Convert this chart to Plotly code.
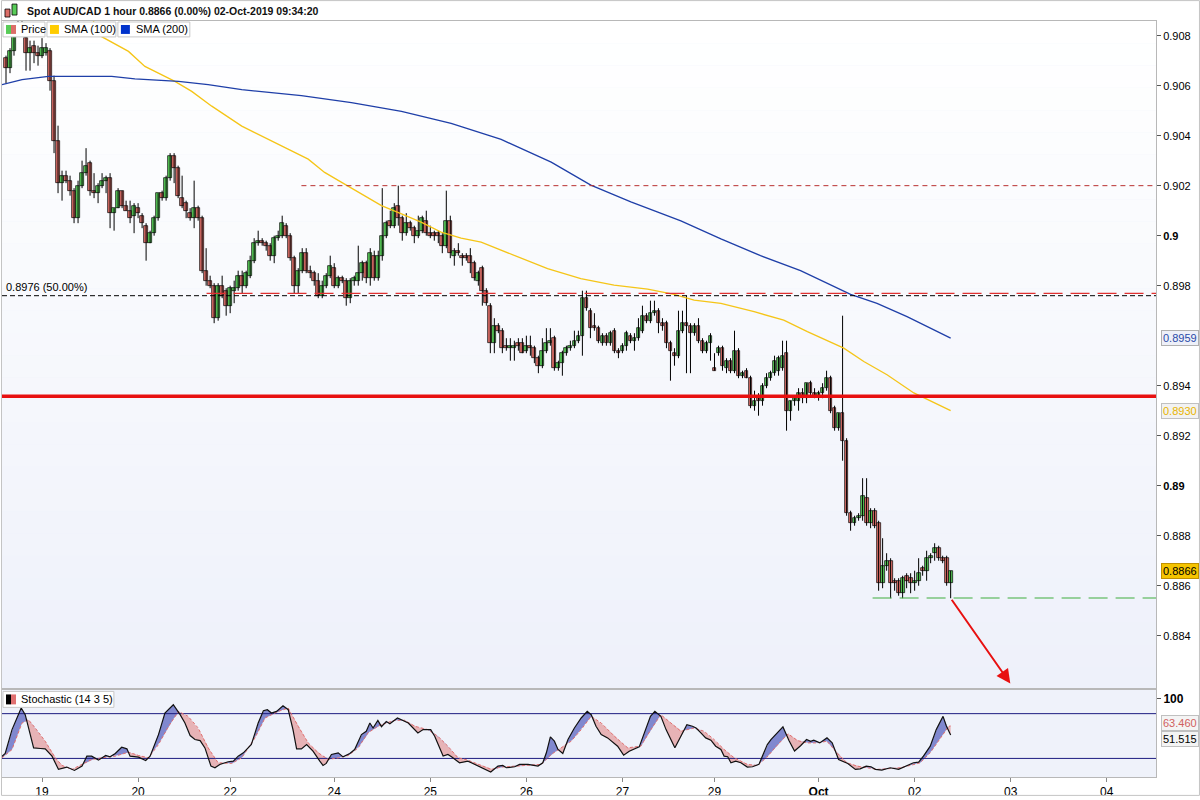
import numpy as np
import plotly.graph_objects as go

# ---------------- DATA (prices in pips, 1 pip = 0.0001) ----------------
OPEN_PIPS = [9071,9067,9074,9081,9085,9079,9073,9076,9073,9072,9073,9074,9062,9038,9021,9024,9022,9018,9007,9020,
             9025,9029,9018,9017,9020,9022,9023,9009,9011,9018,9012,9010,9008,9011,9008,9004,8997,9001,9007,9017,
             9015,9023,9032,9027,9015,9013,9009,9007,9011,9007,8986,8982,8980,8967,8980,8978,8972,8978,8979,8984,
             8980,8984,8990,8997,8998,8997,8996,8992,8999,9000,9004,9000,8991,8980,8986,8993,8986,8985,8982,8976,
             8980,8984,8987,8980,8983,8982,8975,8982,8982,8985,8989,8983,8992,8983,8992,9000,9006,9004,9012,9007,
             9001,9005,9003,9000,9002,9006,9001,9001,9001,9000,8996,9006,8992,8994,8992,8992,8992,8989,8982,8987,
             8978,8972,8957,8964,8962,8956,8955,8955,8957,8957,8954,8956,8955,8951,8948,8954,8957,8959,8947,8949,
             8953,8955,8956,8958,8960,8975,8970,8964,8963,8957,8960,8957,8962,8954,8954,8956,8960,8958,8959,8962,
             8968,8966,8969,8970,8965,8965,8957,8953,8952,8962,8965,8964,8961,8964,8958,8954,8957,8947,8953,8955,
             8947,8950,8946,8954,8944,8946,8943,8932,8935,8934,8940,8943,8945,8946,8947,8953,8930,8934,8934,8937,
             8935,8941,8937,8936,8937,8939,8943,8931,8923,8929,8918,8889,8885,8887,8888,8895,8885,8890,8885,8861,
             8868,8870,8862,8862,8857,8864,8863,8861,8862,8867,8866,8871,8873,8875,8871,8871,8861]
HIGH_PIPS = [9072,9075,9084,9087,9088,9082,9078,9078,9076,9079,9077,9075,9064,9044,9026,9026,9024,9019,9022,9030,
             9035,9030,9025,9021,9025,9024,9025,9011,9019,9018,9014,9014,9013,9013,9009,9005,9002,9008,9017,9018,
             9024,9033,9033,9028,9024,9014,9011,9022,9012,9008,8995,8984,8981,8981,8984,8979,8980,8982,8986,8986,
             8986,8992,8999,9002,8999,8998,8997,9000,9002,9008,9005,9001,8992,8987,8995,8995,8988,8986,8985,8982,
             8985,8992,8989,8984,8984,8983,8983,8984,8996,8990,8990,8995,8994,8994,9019,9006,9010,9013,9020,9008,
             9009,9006,9004,9008,9008,9010,9004,9002,9002,9001,9018,9008,8995,8997,8993,8993,8995,8990,8986,8988,
             8979,8973,8967,8965,8963,8959,8959,8958,8959,8959,8960,8960,8956,8952,8959,8963,8963,8960,8950,8954,
             8956,8958,8962,8962,8978,8978,8971,8969,8964,8961,8961,8962,8963,8955,8957,8962,8961,8961,8967,8972,
             8969,8974,8974,8971,8967,8966,8958,8955,8970,8970,8976,8965,8965,8967,8959,8958,8961,8953,8956,8956,
             8951,8951,8962,8955,8946,8947,8944,8938,8937,8941,8945,8946,8952,8952,8958,8958,8934,8935,8939,8939,
             8941,8942,8939,8938,8941,8946,8944,8932,8929,8968,8919,8890,8888,8889,8903,8903,8891,8891,8886,8879,
             8873,8871,8863,8863,8864,8865,8865,8866,8871,8868,8874,8873,8877,8876,8872,8872,8866]
LOW_PIPS = [9061,9065,9072,9081,9081,9066,9066,9069,9068,9071,9072,9058,9033,9017,9014,9021,9016,9005,9005,9019,
            9024,9016,9015,9013,9019,9017,9003,9002,9011,9011,9010,9005,9001,9007,9003,8990,8997,9000,9006,9014,
            9014,9022,9021,9015,9011,9007,9006,9003,9006,8985,8980,8979,8965,8966,8975,8968,8969,8973,8978,8977,
            8979,8983,8989,8996,8996,8994,8990,8989,8998,8999,8999,8990,8977,8977,8985,8985,8983,8980,8975,8975,
            8979,8983,8979,8979,8981,8972,8973,8980,8980,8982,8981,8980,8982,8982,8990,8999,9003,9003,9004,8998,
            9000,9002,8997,8999,9001,9000,8999,8998,8997,8993,8995,8991,8988,8992,8988,8990,8985,8982,8980,8972,
            8972,8953,8953,8961,8953,8954,8950,8950,8954,8953,8953,8952,8949,8945,8947,8953,8956,8946,8946,8944,
            8952,8954,8955,8957,8952,8970,8959,8962,8957,8956,8956,8956,8953,8951,8953,8954,8957,8954,8958,8961,
            8965,8965,8968,8961,8962,8955,8942,8948,8951,8961,8945,8945,8960,8957,8953,8953,8950,8946,8952,8946,
            8945,8945,8945,8943,8943,8943,8931,8930,8928,8932,8939,8942,8944,8944,8946,8922,8926,8932,8930,8933,
            8933,8936,8935,8934,8935,8938,8929,8922,8922,8910,8888,8882,8884,8886,8886,8884,8883,8883,8858,8859,
            8866,8855,8858,8856,8855,8859,8857,8858,8860,8864,8862,8869,8870,8870,8869,8860,8855]
CLOSE_PIPS = [9067,9074,9080,9085,9082,9073,9075,9073,9072,9075,9075,9062,9038,9021,9024,9022,9018,9007,9020,9025,
              9028,9018,9017,9020,9022,9023,9009,9011,9018,9012,9010,9007,9012,9009,9005,8997,9001,9007,9017,9015,
              9023,9032,9027,9016,9012,9010,9007,9011,9007,8986,8982,8980,8967,8980,8976,8972,8979,8979,8984,8980,
              8985,8990,8997,8998,8997,8996,8992,8999,9000,9005,9000,8991,8980,8986,8993,8986,8985,8982,8976,8980,
              8984,8988,8980,8983,8982,8975,8982,8983,8985,8989,8983,8993,8983,8992,9000,9005,9004,9011,9007,9001,
              9005,9003,9000,9002,9007,9001,9000,9000,9000,8996,9006,8993,8994,8993,8991,8991,8989,8983,8985,8978,
              8973,8957,8964,8962,8955,8955,8956,8956,8956,8953,8956,8955,8951,8948,8954,8957,8958,8947,8949,8953,
              8955,8956,8958,8960,8975,8971,8963,8963,8958,8960,8957,8961,8954,8953,8956,8961,8958,8959,8963,8968,
              8966,8969,8970,8965,8964,8957,8954,8952,8962,8965,8964,8961,8964,8958,8954,8957,8960,8946,8955,8948,
              8950,8946,8954,8944,8945,8943,8932,8934,8934,8940,8943,8945,8950,8951,8952,8930,8934,8935,8937,8935,
              8941,8937,8936,8937,8939,8943,8930,8923,8929,8918,8889,8885,8887,8888,8896,8885,8890,8884,8861,8868,
              8870,8861,8861,8857,8863,8862,8861,8862,8865,8866,8871,8872,8875,8871,8870,8861,8866]

# Moving averages read at points along the drawn curves (x = candle index)
SMA100_X = [21.4, 23.9, 30.6, 34.7, 42.2, 46.4, 51.4, 56.4, 58.9, 75.5, 79.6, 84.6, 88.8, 93.8, 98.8, 103.7,
            108.7, 113.7, 118.7, 135.3, 143.6, 151.9, 160.3, 166.9, 171.9, 178.6, 186.9, 194.3, 200.2, 205.9,
            209.3, 214.3, 220.1, 226.8, 231.8, 236.0]
SMA100 = [0.90871, 0.90796, 0.90737, 0.90677, 0.90617, 0.90577, 0.90518, 0.90465, 0.90438, 0.90306, 0.90253,
          0.90206, 0.90166, 0.90120, 0.90087, 0.90054, 0.90014, 0.89990, 0.89974, 0.89868, 0.89828, 0.89802,
          0.89786, 0.89765, 0.89742, 0.89729, 0.89696, 0.89662, 0.89616, 0.89576, 0.89550, 0.89497, 0.89444,
          0.89371, 0.89331, 0.8930]
SMA200_X = [-1.0, 4.0, 10.6, 26.4, 32.2, 43.1, 50.5, 58.9, 73.8, 86.3, 98.8, 111.2, 123.7, 136.2, 146.1, 156.1,
            168.6, 178.6, 188.5, 198.5, 211.0, 217.6, 225.1, 230.1, 236.0]
SMA200 = [0.90604, 0.90624, 0.90637, 0.90637, 0.90627, 0.90617, 0.90604, 0.90584, 0.90560, 0.90532, 0.90497,
          0.90449, 0.90385, 0.90294, 0.90202, 0.90135, 0.90059, 0.89987, 0.89920, 0.89860, 0.89765, 0.89729,
          0.89676, 0.89636, 0.8959]

# Stochastic %K and %D read at vertices of the drawn lines
STOCH_K_X = [-1.0, -0.2, 1.5, 3.8, 4.8, 6.9, 8.6, 9.8, 11.5, 13.1, 15.2, 17.1, 19.0, 20.2, 21.4, 23.1, 24.9, 26.0,
             27.3, 28.9, 30.2, 31.0, 33.1, 34.9, 36.0, 38.1, 39.7, 41.8, 43.5, 44.7, 46.0, 47.2, 48.5, 49.7, 51.2,
             52.2, 53.4, 55.5, 56.8, 58.0, 59.3, 61.3, 63.0, 64.3, 65.3, 66.3, 67.6, 69.2, 70.5, 71.7, 72.6, 73.8,
             75.1, 76.7, 78.4, 79.2, 80.0, 81.3, 83.0, 84.2, 85.9, 87.1, 88.8, 90.0, 90.9, 91.7, 92.9, 93.8, 95.0,
             95.9, 97.8, 98.8, 100.5, 102.9, 104.2, 106.1, 107.1, 109.2, 110.4, 111.3, 113.3, 115.4, 117.9, 119.6,
             121.1, 122.9, 124.1, 125.0, 127.1, 128.3, 130.4, 132.9, 134.1, 135.0, 136.0, 137.0, 137.9, 139.1,
             140.4, 142.0, 143.7, 145.2, 146.2, 147.4, 148.7, 150.3, 151.6, 152.8, 154.3, 155.7, 158.2, 159.9,
             161.0, 162.1, 163.6, 164.9, 166.0, 167.1, 168.6, 170.1, 171.5, 172.4, 173.6, 174.8, 176.1, 177.3,
             178.6, 179.4, 180.3, 181.1, 182.3, 183.6, 185.2, 186.5, 188.1, 189.4, 190.2, 191.1, 192.4, 194.1,
             195.6, 197.0, 198.5, 200.0, 201.0, 201.8, 203.3, 205.1, 206.4, 208.0, 210.3, 212.2, 213.4, 214.9,
             216.1, 217.2, 218.8, 220.9, 223.0, 225.1, 226.7, 228.0, 229.2, 230.9, 232.4, 234.1, 234.9, 236.0]
STOCH_K = [23.0, 26.6, 58.6, 87.5, 78.6, 34.1, 33.3, 32.8, 23.0, 5.3, 8.4, 3.9, 9.7, 23.0, 23.0, 17.7, 23.9, 22.1,
           26.6, 35.0, 32.8, 23.0, 21.7, 17.3, 23.0, 51.9, 80.8, 91.9, 78.6, 67.5, 50.6, 45.3, 43.9, 34.1, 9.7,
           7.5, 11.9, 15.5, 16.4, 23.0, 27.5, 38.6, 67.5, 83.9, 85.3, 80.8, 83.0, 90.6, 85.3, 58.6, 32.8, 32.8,
           38.6, 29.7, 16.4, 10.6, 13.3, 25.3, 27.5, 22.1, 26.6, 31.9, 51.9, 56.4, 67.5, 60.8, 71.0, 62.6, 69.5,
           66.4, 74.2, 71.5, 67.5, 54.2, 58.6, 58.6, 49.7, 23.1, 25.3, 22.2, 14.2, 16.4, 9.7, 5.3, 1.7, 9.7, 10.6,
           7.5, 8.8, 12.0, 12.0, 9.7, 14.2, 27.5, 48.8, 43.1, 32.0, 26.6, 45.3, 60.8, 74.2, 83.1, 78.6, 63.1,
           52.0, 47.5, 41.7, 36.4, 24.4, 29.7, 35.5, 60.8, 76.4, 83.1, 76.4, 58.6, 45.3, 34.2, 49.7, 65.3, 63.1,
           60.8, 54.2, 47.5, 44.4, 36.4, 32.0, 23.1, 22.2, 14.2, 16.4, 14.2, 8.4, 8.8, 12.0, 27.5, 38.6, 45.3,
           52.5, 62.2, 44.0, 30.0, 37.0, 45.3, 43.0, 44.4, 40.8, 47.5, 40.8, 18.6, 13.3, 5.3, 6.1, 9.7, 8.8, 5.3,
           4.4, 7.5, 5.3, 10.6, 14.2, 15.0, 23.0, 36.4, 58.6, 76.4, 63.9, 51.515]
STOCH_D_X = [-1.0, 1.5, 4.0, 5.6, 7.3, 9.8, 12.3, 14.0, 16.5, 19.0, 21.4, 23.9, 27.3, 30.6, 33.1, 35.6, 38.1, 40.6,
             43.1, 45.5, 48.0, 50.5, 53.0, 56.4, 58.9, 62.2, 64.7, 68.0, 70.5, 73.0, 75.5, 78.0, 80.5, 83.0, 85.5,
             88.0, 90.4, 92.9, 93.8, 97.1, 99.6, 102.1, 105.4, 107.9, 110.4, 112.9, 115.4, 118.7, 121.2, 123.7,
             127.1, 130.4, 133.7, 136.2, 138.7, 141.2, 143.7, 146.2, 148.7, 152.0, 155.3, 158.6, 161.1, 163.6,
             166.1, 168.6, 171.9, 174.4, 176.9, 179.4, 181.9, 185.2, 187.7, 190.0, 192.7, 195.4, 197.7, 200.1,
             202.6, 205.1, 207.6, 210.1, 212.6, 215.1, 217.6, 220.1, 223.4, 225.9, 228.4, 230.9, 232.6, 234.2,
             235.5, 236.0]
STOCH_D = [20.8, 31.9, 67.5, 71.9, 60.8, 43.0, 20.8, 10.6, 5.3, 11.9, 18.6, 20.8, 23.0, 28.4, 23.9, 20.8, 38.6, 63.0,
           83.0, 76.4, 60.8, 34.1, 14.1, 13.3, 20.8, 47.5, 74.1, 83.0, 87.5, 63.0, 40.8, 27.5, 18.6, 20.8, 23.9,
           34.1, 54.1, 63.0, 65.3, 71.1, 71.1, 63.1, 58.6, 49.7, 36.4, 20.9, 17.7, 10.6, 5.3, 8.4, 9.7, 10.6, 12.0,
           25.3, 34.2, 43.1, 58.6, 76.4, 67.5, 49.7, 34.2, 36.4, 58.6, 78.6, 67.5, 56.4, 60.8, 56.4, 45.3, 32.0,
           20.9, 12.0, 10.5, 21.0, 38.0, 53.0, 44.0, 40.8, 40.8, 43.0, 27.5, 14.1, 9.7, 7.5, 5.3, 6.1, 7.5, 10.6,
           14.1, 27.5, 40.8, 54.1, 63.0, 63.46]

# Horizontal levels: (price, start candle index)
RESIST_LEVEL = (0.9020, 73.8)
FIB_LEVEL = (0.8976, -1.0)
FIB_RED_LEVEL = (0.89769, 50.1)
KEY_LEVEL = (0.89358, -1.0)
SUPPORT_LEVEL = (0.88551, 216.5)
ARROW_TARGET = (250.9, 0.88209)

# Axis ticks
X_TICK_IDX = [9, 33, 56, 82, 106, 130, 154, 177, 203, 227, 251, 275]
X_TICK_TEXT = ['19', '20', '22', '24', '25', '26', '27', '29', '<b>Oct</b>', '02', '03', '04']
Y_TICKS = [0.884, 0.886, 0.888, 0.89, 0.892, 0.894, 0.898, 0.9, 0.902, 0.904, 0.906, 0.908]
Y_TICK_TEXT = ['0.884', '0.886', '0.888', '<b>0.89</b>', '0.892', '0.894', '0.898', '<b>0.9</b>', '0.902',
               '0.904', '0.906', '0.908']

X_RANGE = [-1.0, 287.3]
Y_RANGE = [0.881851, 0.908586]
Y2_RANGE = [-4.9, 112.4]

# ---------------- BUILD ----------------
PIP = 0.0001
o = np.array(OPEN_PIPS) * PIP
h = np.array(HIGH_PIPS) * PIP
l = np.array(LOW_PIPS) * PIP
c = np.array(CLOSE_PIPS) * PIP
idx = np.arange(len(o))

GREEN = '#58cc58'
RED = '#dc6e68'
FONT = 'Liberation Sans, Arial, sans-serif'

W, H = 1200, 800
ML, MR, MT, MB = 1, 44, 21, 19
PW, PH = W - ML - MR, H - MT - MB
STOCH_H = 88


def px(xp):
    return (xp - ML) / PW


def py(yp):
    return (H - MB - yp) / PH


fig = go.Figure()

# wicks
wx, wy = [], []
for i in idx:
    wx += [i, i, None]
    wy += [l[i], h[i], None]
fig.add_trace(go.Scatter(x=wx, y=wy, mode='lines', line=dict(color='black', width=1),
                         hoverinfo='skip', showlegend=False))
# bodies
body_base = np.minimum(o, c)
body_h = np.maximum(np.abs(c - o), 1e-6)
colors = [GREEN if c[i] >= o[i] else RED for i in idx]
fig.add_trace(go.Bar(x=idx, y=body_h, base=body_base, width=0.95,
                     marker=dict(color=colors, line=dict(color='black', width=0.7)),
                     hoverinfo='skip', showlegend=False))

# moving averages
fig.add_trace(go.Scatter(x=SMA100_X, y=SMA100, mode='lines', line=dict(color='#f5c518', width=1.3),
                         hoverinfo='skip', showlegend=False))
fig.add_trace(go.Scatter(x=SMA200_X, y=SMA200, mode='lines', line=dict(color='#1f3fa8', width=1.3),
                         hoverinfo='skip', showlegend=False))

# level lines
def hline(level, color, width, dash):
    fig.add_trace(go.Scatter(x=[level[1], X_RANGE[1]], y=[level[0], level[0]], mode='lines',
                             line=dict(color=color, width=width, dash=dash),
                             hoverinfo='skip', showlegend=False))


hline(RESIST_LEVEL, '#b83030', 1, '5px,4px')
hline(FIB_RED_LEVEL, '#e03030', 1.2, '19px,8px')
hline(FIB_LEVEL, '#000000', 1, '5px,3px')
hline(KEY_LEVEL, '#e81010', 3.5, 'solid')
hline(SUPPORT_LEVEL, '#3fae3f', 1.2, '19px,8px')

# stochastic fills
g = np.arange(-1.0, 236.001, 0.25)
kg = np.interp(g, STOCH_K_X, STOCH_K)
dg = np.interp(g, STOCH_D_X, STOCH_D)
common = dict(mode='lines', hoverinfo='skip', showlegend=False, xaxis='x2', yaxis='y2')
fig.add_trace(go.Scatter(x=g, y=dg, line=dict(width=0), **common))
fig.add_trace(go.Scatter(x=g, y=np.maximum(kg, dg), fill='tonexty', fillcolor='rgba(75,85,185,0.68)',
                         line=dict(width=0), **common))
fig.add_trace(go.Scatter(x=g, y=dg, line=dict(width=0), **common))
fig.add_trace(go.Scatter(x=g, y=np.minimum(kg, dg), fill='tonexty', fillcolor='rgba(226,140,140,0.62)',
                         line=dict(width=0), **common))
# bands 80 / 20
for lv in (80, 20):
    fig.add_trace(go.Scatter(x=X_RANGE, y=[lv, lv], line=dict(color='#1c1c80', width=1), **common))
fig.add_trace(go.Scatter(x=STOCH_D_X, y=STOCH_D, line=dict(color='#e07070', width=1, dash='3px,2px'), **common))
fig.add_trace(go.Scatter(x=STOCH_K_X, y=STOCH_K, line=dict(color='#111111', width=1.2), **common))

# ---------------- LAYOUT ----------------
stoch_frac = STOCH_H / PH
axis_line = '#b8b8b8'
fig.update_layout(
    width=W, height=H, margin=dict(l=ML, r=MR, t=MT, b=MB),
    paper_bgcolor='white', plot_bgcolor='#eff2fa',
    font=dict(family=FONT, size=11, color='black'),
    showlegend=False, bargap=0,
    xaxis=dict(domain=[0, 1], range=X_RANGE, anchor='y', showticklabels=False, ticks='',
               showgrid=False, zeroline=False, showline=True, linecolor=axis_line, mirror=True),
    yaxis=dict(domain=[stoch_frac, 1], range=Y_RANGE, side='right', tickvals=Y_TICKS, ticktext=Y_TICK_TEXT,
               ticks='outside', ticklen=4, tickcolor='#555', showgrid=False, zeroline=False,
               showline=True, linecolor=axis_line, mirror=True, tickfont=dict(size=11)),
    xaxis2=dict(domain=[0, 1], range=X_RANGE, anchor='y2', matches='x', tickvals=X_TICK_IDX,
                ticktext=X_TICK_TEXT, ticks='outside', ticklen=4, tickcolor='#888', showgrid=False,
                zeroline=False, showline=True, linecolor=axis_line, mirror=True, tickfont=dict(size=12)),
    yaxis2=dict(domain=[0, stoch_frac], range=Y2_RANGE, anchor='x2', side='right', tickvals=[100],
                ticktext=['<b>100</b>'], ticks='outside', ticklen=4, tickcolor='#555', showgrid=False,
                zeroline=False, showline=True, linecolor=axis_line, mirror=True, tickfont=dict(size=12)),
)

shapes = []
# gradient background for price panel
NB = 30
for k in range(NB):
    t = k / (NB - 1)
    r = int(round(255 + (238 - 255) * t))
    gg = int(round(255 + (241 - 255) * t))
    b = int(round(255 + (250 - 255) * t))
    shapes.append(dict(type='rect', xref='x domain', yref='y domain', x0=0, x1=1,
                       y0=1 - (k + 1) / NB, y1=1 - k / NB, fillcolor=f'rgb({r},{gg},{b})',
                       line=dict(width=0), layer='below'))
# outer border
shapes.append(dict(type='rect', xref='paper', yref='paper', x0=px(0.5), x1=px(W - 0.5), y0=py(H - 0.5),
                   y1=py(0.5), line=dict(color='#c4c4c4', width=1), fillcolor='rgba(0,0,0,0)'))
# title icon
shapes.append(dict(type='rect', xref='paper', yref='paper', x0=px(4), x1=px(9), y0=py(17), y1=py(9),
                   fillcolor=RED, line=dict(color='black', width=0.8)))
shapes.append(dict(type='rect', xref='paper', yref='paper', x0=px(11), x1=px(16), y0=py(15), y1=py(4),
                   fillcolor=GREEN, line=dict(color='black', width=0.8)))
# legend boxes
for (x0, x1) in [(2, 44), (46, 115), (117, 189)]:
    shapes.append(dict(type='rect', xref='paper', yref='paper', x0=px(x0), x1=px(x1), y0=py(37), y1=py(22),
                       fillcolor='white', line=dict(color='#c8c8c8', width=1)))
shapes.append(dict(type='rect', xref='paper', yref='paper', x0=px(5), x1=px(10), y0=py(34), y1=py(25),
                   fillcolor=GREEN, line=dict(width=0)))
shapes.append(dict(type='rect', xref='paper', yref='paper', x0=px(10), x1=px(15), y0=py(34), y1=py(25),
                   fillcolor=RED, line=dict(width=0)))
shapes.append(dict(type='rect', xref='paper', yref='paper', x0=px(49), x1=px(58), y0=py(34), y1=py(25),
                   fillcolor='#ffcc00', line=dict(width=0)))
shapes.append(dict(type='rect', xref='paper', yref='paper', x0=px(120), x1=px(129), y0=py(34), y1=py(25),
                   fillcolor='#0033cc', line=dict(width=0)))
# stochastic legend box
shapes.append(dict(type='rect', xref='paper', yref='paper', x0=px(2), x1=px(113), y0=py(711), y1=py(695),
                   fillcolor='white', line=dict(color='#c8c8c8', width=1)))
shapes.append(dict(type='rect', xref='paper', yref='paper', x0=px(5), x1=px(10), y0=py(708), y1=py(698),
                   fillcolor='black', line=dict(width=0)))
shapes.append(dict(type='rect', xref='paper', yref='paper', x0=px(10), x1=px(15), y0=py(708), y1=py(698),
                   fillcolor='#e07070', line=dict(width=0)))
fig.update_layout(shapes=shapes)

ann = []
ann.append(dict(xref='paper', yref='paper', x=px(24), y=py(11), xanchor='left', yanchor='middle',
                text='<b>Spot AUD/CAD 1 hour 0.8866 (0.00%) 02-Oct-2019 09:34:20</b>', showarrow=False,
                font=dict(size=10.5, color='#111')))
for xx, txt in [(18, 'Price'), (61, 'SMA (100)'), (133, 'SMA (200)')]:
    ann.append(dict(xref='paper', yref='paper', x=px(xx), y=py(29.5), xanchor='left', yanchor='middle',
                    text=txt, showarrow=False, font=dict(size=11)))
ann.append(dict(xref='paper', yref='paper', x=px(18), y=py(703), xanchor='left', yanchor='middle',
                text='Stochastic (14 3 5)', showarrow=False, font=dict(size=11)))
ann.append(dict(xref='paper', yref='y', x=px(3), y=FIB_LEVEL[0], xanchor='left', yanchor='bottom', yshift=1,
                text='0.8976 (50.00%)', showarrow=False, font=dict(size=11)))
# arrow
ann.append(dict(xref='x', yref='y', axref='x', ayref='y', x=ARROW_TARGET[0], y=ARROW_TARGET[1],
                ax=idx[-1], ay=l[-1], text='', showarrow=True, arrowhead=2, arrowsize=1.4,
                arrowwidth=2, arrowcolor='#e81010'))


def value_tag(val, yref, txt, fcolor, bg, border, yshift=0):
    ann.append(dict(xref='paper', yref=yref, x=px(W - MR + 5), y=val, xanchor='left', yanchor='middle',
                    text=txt, showarrow=False, font=dict(size=11, color=fcolor), bgcolor=bg,
                    bordercolor=border, borderwidth=1, borderpad=1, yshift=yshift))


value_tag(SMA200[-1], 'y', f'{SMA200[-1]:.4f}', '#2a4aa8', '#eef0f8', '#b0b0b0')
value_tag(SMA100[-1], 'y', f'{SMA100[-1]:.4f}', '#e8b400', '#f2f2f2', '#c0c0c0')
value_tag(c[-1], 'y', f'{c[-1]:.4f}', '#000000', '#f5c400', '#c09000')
value_tag(STOCH_D[-1], 'y2', f'{STOCH_D[-1]:.3f}', '#d06060', '#f4f4f4', '#c0c0c0', yshift=3)
value_tag(STOCH_K[-1], 'y2', f'{STOCH_K[-1]:.3f}', '#000000', '#f4f4f4', '#c0c0c0', yshift=-4)
fig.update_layout(annotations=ann)

fig.write_html('out.html', config={'displayModeBar': False},
               post_script="document.body.style.margin='0px';document.body.style.padding='0px';"
                           "document.documentElement.style.overflow='hidden';")
